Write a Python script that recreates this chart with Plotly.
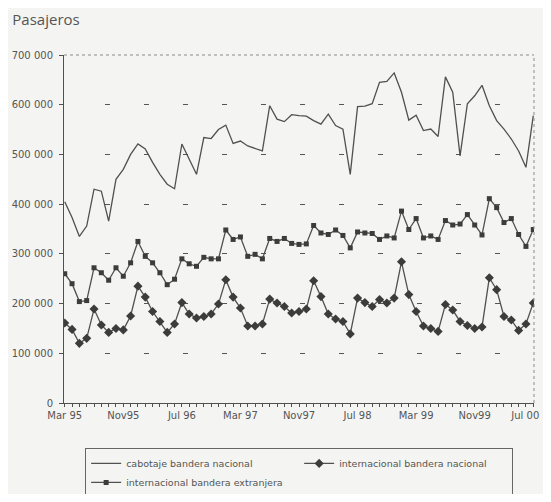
import plotly.graph_objects as go
import pandas as pd

# meses mar 1995 - jul 2000
meses = pd.period_range("1995-03", "2000-07", freq="M").strftime("%b %Y").tolist()
etiquetas = ["Mar 95", "Nov95", "Jul 96", "Mar 97", "Nov97", "Jul 98", "Mar 99", "Nov99", "Jul 00"]

cabotaje_nacional = [
    405000, 373000, 335000, 356000, 430000, 426000, 366000, 450000, 470000, 500000,
    521000, 511000, 484000, 460000, 440000, 431000, 521000, 490000, 460000, 534000,
    532000, 550000, 559000, 522000, 527000, 517000, 512000, 507000, 598000, 571000,
    566000, 580000, 578000, 577000, 568000, 561000, 581000, 558000, 551000, 460000,
    596000, 597000, 602000, 645000, 647000, 664000, 625000, 569000, 579000, 548000,
    551000, 536000, 656000, 625000, 497000, 602000, 618000, 639000, 598000, 568000,
    551000, 531000, 507000, 474000, 578000,
]

internacional_nacional = [
    161000, 148000, 120000, 130000, 189000, 157000, 142000, 150000, 147000, 175000,
    235000, 213000, 184000, 164000, 142000, 159000, 202000, 179000, 171000, 174000,
    179000, 199000, 248000, 213000, 191000, 155000, 155000, 159000, 209000, 201000,
    194000, 181000, 184000, 189000, 246000, 214000, 179000, 169000, 164000, 139000,
    211000, 202000, 194000, 208000, 201000, 211000, 284000, 218000, 184000, 155000,
    150000, 144000, 198000, 187000, 164000, 156000, 150000, 153000, 252000, 228000,
    174000, 167000, 146000, 159000, 201000,
]

internacional_extranjera = [
    260000, 240000, 204000, 206000, 272000, 262000, 247000, 272000, 255000, 282000,
    325000, 295000, 282000, 262000, 238000, 249000, 290000, 280000, 275000, 293000,
    290000, 290000, 348000, 329000, 334000, 295000, 299000, 290000, 331000, 325000,
    331000, 321000, 319000, 320000, 357000, 342000, 339000, 348000, 337000, 312000,
    344000, 342000, 341000, 329000, 336000, 332000, 386000, 349000, 371000, 332000,
    336000, 329000, 367000, 358000, 360000, 379000, 358000, 338000, 411000, 393000,
    363000, 371000, 339000, 315000, 349000,
]

gris = "#505050"
fuente = "DejaVu Sans"

fig = go.Figure()

fig.add_trace(go.Scatter(
    x=meses, y=cabotaje_nacional, mode="lines",
    name="cabotaje bandera nacional",
    line=dict(color=gris, width=1.3),
))

fig.add_trace(go.Scatter(
    x=meses, y=internacional_nacional, mode="lines+markers",
    name="internacional bandera nacional",
    line=dict(color=gris, width=1.3),
    marker=dict(symbol="diamond", size=7, color="#3c3c3c"),
))

fig.add_trace(go.Scatter(
    x=meses, y=internacional_extranjera, mode="lines+markers",
    name="internacional bandera extranjera",
    line=dict(color=gris, width=1.3),
    marker=dict(symbol="square", size=5, color="#3c3c3c"),
))

# rejilla de trazos cortos como en el original
rejilla = "0px,41px" + ",5px,34px" * 13

ticktext = [etiquetas[i // 8] if i % 8 == 0 else "" for i in range(len(meses))]
# la última etiqueta se corre un poco a la izquierda para que no se corte
ticktext[-1] = ticktext[-1] + "\u00a0" * 5

fig.update_xaxes(
    type="category",
    range=[-0.1, 64.1],
    tickmode="array",
    tickvals=meses,
    ticktext=ticktext,
    tickangle=0,
    ticks="outside",
    ticklen=3,
    tickcolor=gris,
    showline=True,
    linecolor=gris,
    linewidth=1,
    showgrid=False,
    tickfont=dict(family=fuente, size=10, color="#555555"),
)

fig.update_yaxes(
    range=[0, 700000],
    dtick=100000,
    tickformat=",d",
    ticks="outside",
    ticklen=4,
    ticklabelstandoff=4,
    tickcolor=gris,
    showline=True,
    linecolor=gris,
    linewidth=1,
    showgrid=True,
    gridcolor="#555555",
    gridwidth=1,
    griddash=rejilla,
    zeroline=False,
    tickfont=dict(family=fuente, size=10, color="#555555"),
)

# borde superior y derecho punteado
fig.add_shape(type="line", xref="paper", yref="paper", x0=0, x1=1, y0=1, y1=1,
              line=dict(color="#8a8a8a", width=1, dash="dot"))
fig.add_shape(type="line", xref="paper", yref="paper", x0=1, x1=1, y0=0, y1=1,
              line=dict(color="#8a8a8a", width=1, dash="dot"))

# la página añade 8px de margen, se compensa en el tamaño
fig.update_layout(
    width=543,
    height=486,
    margin=dict(l=56, r=17, t=47, b=91, autoexpand=False),
    paper_bgcolor="#f4f4f2",
    plot_bgcolor="#f4f4f2",
    separators=". ",
    title=dict(
        text="Pasajeros",
        x=0.008, xref="container", xanchor="left",
        y=0.975, yref="container", yanchor="middle",
        font=dict(family="Open Sans", size=15, color="#555555"),
    ),
    legend=dict(
        orientation="h",
        x=0.045, xanchor="left",
        y=-0.129, yanchor="top",
        entrywidth=168,
        bgcolor="rgba(0,0,0,0)",
        bordercolor="#666666",
        borderwidth=1,
        font=dict(family=fuente, size=9.5, color="#555555"),
        traceorder="normal",
    ),
    showlegend=True,
)

fig.write_html("out.html")
